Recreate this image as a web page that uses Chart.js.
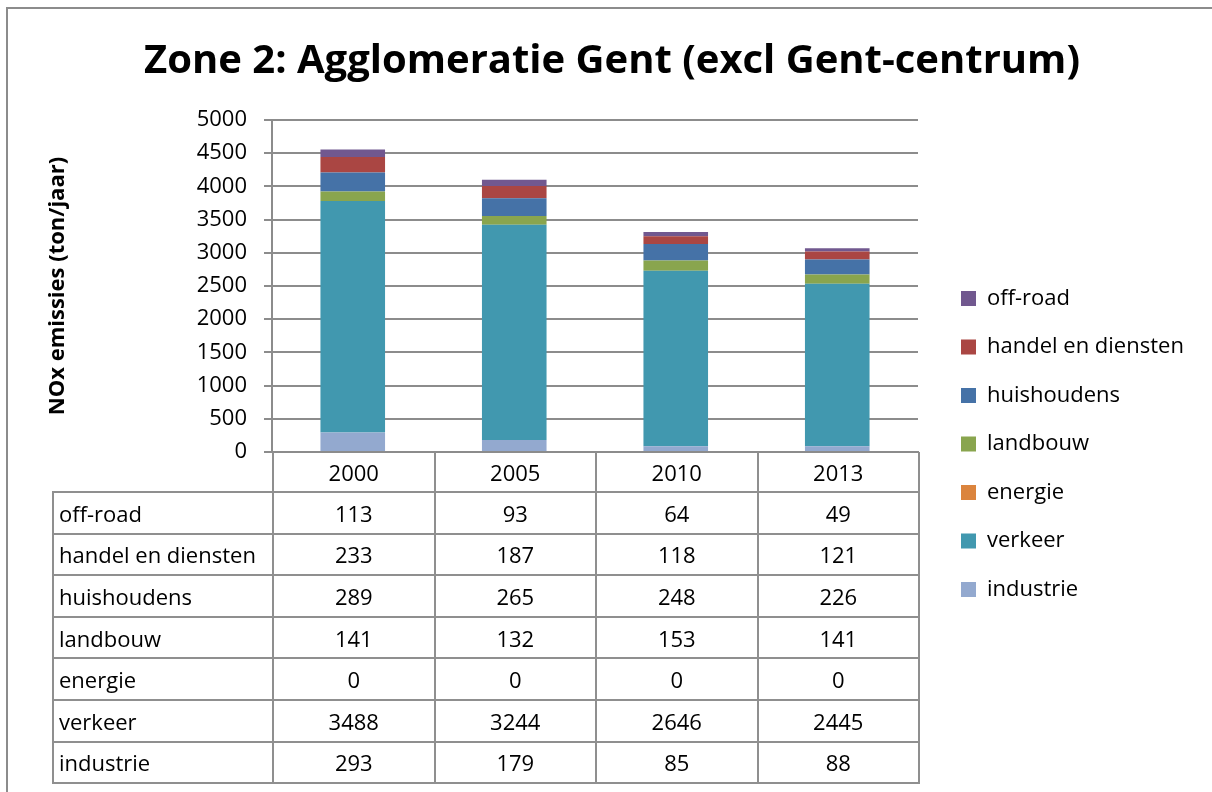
<!DOCTYPE html>
<html>
<head>
<meta charset="utf-8">
<script src="https://cdn.jsdelivr.net/npm/chart.js@4/dist/chart.umd.min.js"></script>
<style>
body{margin:0;background:#fff;font-family:'Open Sans',sans-serif;}
#wrap{position:relative;width:1212px;height:792px;overflow:hidden;background:#fff;}
#frame{position:absolute;left:6px;top:7px;width:1300px;height:900px;border-left:2px solid #8c8c8c;border-top:2px solid #8c8c8c;}
#chart{position:absolute;left:0;top:0;}
#table{position:absolute;top:452px;border-collapse:collapse;table-layout:fixed;font-size:22px;color:#000;}
#table td{border:2px solid #8f8f8f;padding:0;text-align:center;vertical-align:middle;white-space:nowrap;}
#table td.lbl{text-align:left;padding-left:5px;}
#table tr.head td{border-top:none;}
</style>
</head>
<body>
<div id="wrap">
  <div id="frame"></div>
  <canvas id="chart" width="1212" height="792"></canvas>
  <table id="table"></table>
</div>
<script>
const years=['2000','2005','2010','2013'];
const offRoad=[113,93,64,49];
const handelDiensten=[233,187,118,121];
const huishoudens=[289,265,248,226];
const landbouw=[141,132,153,141];
const energie=[0,0,0,0];
const verkeer=[3488,3244,2646,2445];
const industrie=[293,179,85,88];

// bottom to top in the stack
const series=[
  {label:'industrie',data:industrie,color:'#93A9CF'},
  {label:'verkeer',data:verkeer,color:'#4198AF'},
  {label:'energie',data:energie,color:'#DB843D'},
  {label:'landbouw',data:landbouw,color:'#89A54E'},
  {label:'huishoudens',data:huishoudens,color:'#4572A7'},
  {label:'handel en diensten',data:handelDiensten,color:'#AA4643'},
  {label:'off-road',data:offRoad,color:'#71588F'}
];

const font="'Open Sans', sans-serif";
const gray='#8c8c8c';
const area={left:272,top:120,right:918,bottom:452};

// moves legend and title to where Excel put them
const boxShift={
  id:'boxShift',
  afterLayout(chart){
    let lg=chart.legend;
    let dx=961-(lg.left+lg.options.labels.padding);
    lg.left+=dx; lg.right+=dx;
    lg.top+=48; lg.bottom+=48;
    let tb=chart.titleBlock;
    let tx=612-(tb.left+tb.right)/2;
    tb.left+=tx; tb.right+=tx;
  }
};

const chart=new Chart(document.getElementById('chart'),{
  type:'bar',
  data:{
    labels:years,
    datasets:series.map(s=>({label:s.label,data:s.data,backgroundColor:s.color,borderWidth:0,
      barPercentage:0.4,categoryPercentage:1}))
  },
  options:{
    responsive:false,
    animation:false,
    layout:{padding:{left:0,top:0,right:0,bottom:0}},
    plugins:{
      title:{display:true,text:'Zone 2: Agglomeratie Gent (excl Gent-centrum)',color:'#000',
        font:{family:font,size:40,weight:'bold'},padding:{top:38,bottom:20}},
      legend:{position:'right',reverse:true,
        labels:{boxWidth:15,boxHeight:15,padding:26.5,color:'#000',font:{family:font,size:22}}},
      tooltip:{enabled:false}
    },
    scales:{
      x:{stacked:true,grid:{display:false},border:{color:gray,width:2},ticks:{display:false},
        afterFit(s){s.height=792-area.bottom;}},
      y:{stacked:true,min:0,max:5000,
        ticks:{stepSize:500,color:'#000',padding:17,font:{family:font,size:22},callback:v=>String(v)},
        grid:{color:gray,lineWidth:2,tickLength:8},
        border:{color:gray,width:2},
        title:{display:true,text:'NOx emissies (ton/jaar)',color:'#000',
          font:{family:font,size:22,weight:'bold'},padding:{top:45,bottom:0}},
        afterFit(s){s.width=area.left;}}
    }
  },
  plugins:[boxShift]
});

// nudge the layout so the plot area sits where it does in the picture
let ca=chart.chartArea;
chart.options.plugins.title.padding.bottom+=area.top-ca.top;
chart.options.layout.padding.right+=ca.right-area.right;
chart.update();

// data table under the plot, aligned on the category scale
function buildTable(){
  let xs=chart.scales.x;
  let cw=(xs.right-xs.left)/years.length;
  let t=document.getElementById('table');
  t.style.left='52px';
  let html='<colgroup><col style="width:'+(xs.left-52)+'px">';
  years.forEach(()=>html+='<col style="width:'+cw+'px">');
  html+='</colgroup><tr class="head" style="height:40px"><td style="border-left:none"></td>';
  years.forEach(y=>html+='<td>'+y+'</td>');
  html+='</tr>';
  series.slice().reverse().forEach(s=>{
    html+='<tr style="height:41.6px"><td class="lbl">'+s.label+'</td>';
    s.data.forEach(v=>html+='<td>'+v+'</td>');
    html+='</tr>';
  });
  t.innerHTML=html;
}
buildTable();
</script>
</body>
</html>
